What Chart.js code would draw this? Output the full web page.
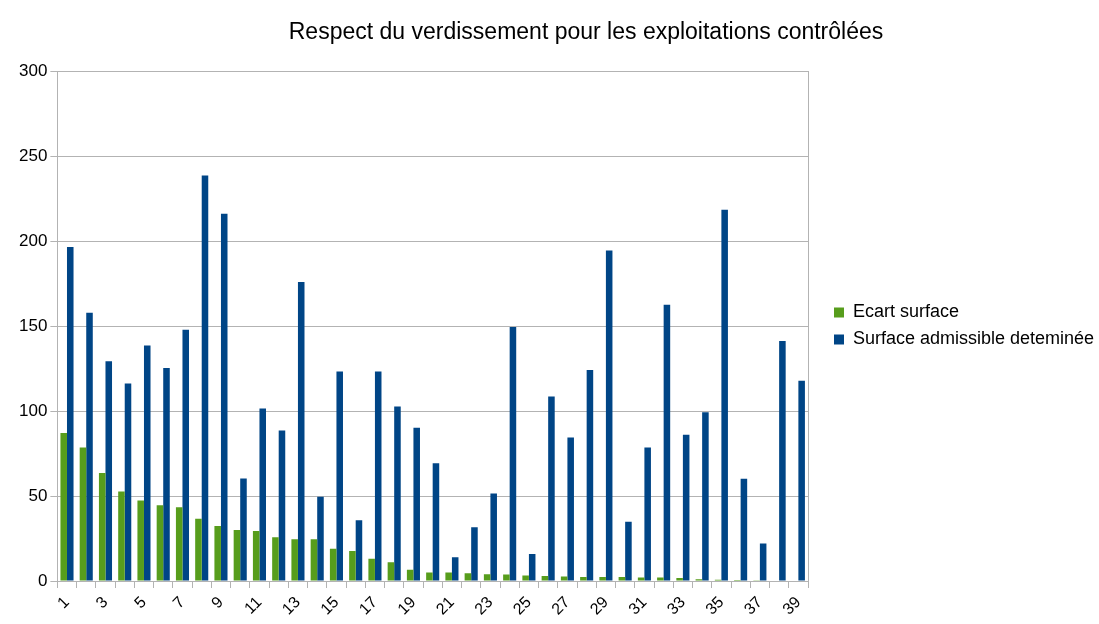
<!DOCTYPE html>
<html>
<head>
<meta charset="utf-8">
<script src="https://cdn.jsdelivr.net/npm/chart.js@4/dist/chart.umd.min.js"></script>
<style>
    body { margin: 0; background: #fff; }
    #wrap { width: 1099px; height: 624px; position: relative; }
</style>
</head>
<body>
<div id="wrap"><canvas id="verdChart"></canvas></div>
<script>
// Chart data
const titleText = 'Respect du verdissement pour les exploitations contrôlées';
const categories = ['1', '2', '3', '4', '5', '6', '7', '8', '9', '10',
    '11', '12', '13', '14', '15', '16', '17', '18', '19', '20',
    '21', '22', '23', '24', '25', '26', '27', '28', '29', '30',
    '31', '32', '33', '34', '35', '36', '37', '38', '39'];
const ecartSurface = [87, 78.5, 63.5, 52.7, 47.3, 44.6, 43.4, 36.6, 32.4, 30,
    29.4, 25.7, 24.5, 24.5, 18.9, 17.7, 13.1, 11.1, 6.6, 5,
    5, 4.6, 4, 3.8, 3.2, 3, 2.6, 2.4, 2.4, 2.4,
    2, 2, 1.8, 1, 0.8, 0.6, 0.5, 0.3, 0.3];
const surfaceAdmissible = [196.4, 157.8, 129.3, 116.2, 138.5, 125.3, 147.8, 238.5, 216, 60.3,
    101.5, 88.5, 175.9, 49.5, 123.3, 35.8, 123.3, 102.7, 90.1, 69.2,
    13.9, 31.6, 51.5, 149.4, 15.9, 108.6, 84.4, 124.1, 194.4, 34.8,
    78.6, 162.5, 86.1, 99.3, 218.4, 60.1, 22.1, 141.2, 117.8];
const yTicks = [0, 50, 100, 150, 200, 250, 300];

const gridGray = '#b3b3b3';
const fontFamily = '"Liberation Sans", Arial, sans-serif';

// Title drawn over the whole chart object, like the original
const offsetTitle = {
    id: 'offsetTitle',
    afterDraw(chart) {
        const ctx = chart.ctx;
        ctx.save();
        ctx.font = '23px ' + fontFamily;
        ctx.fillStyle = '#000';
        ctx.textAlign = 'center';
        ctx.textBaseline = 'middle';
        ctx.fillText(titleText, 586, 33);
        ctx.restore();
    }
};

function createChart() {
    const ctx = document.getElementById('verdChart').getContext('2d');

    new Chart(ctx, {
        type: 'bar',
        data: {
            labels: categories,
            datasets: [
                {
                    label: 'Ecart surface',
                    data: ecartSurface,
                    backgroundColor: '#579d1c',
                    categoryPercentage: 0.68,
                    barPercentage: 1
                },
                {
                    label: 'Surface admissible deteminée',
                    data: surfaceAdmissible,
                    backgroundColor: '#004586',
                    categoryPercentage: 0.68,
                    barPercentage: 1
                }
            ]
        },
        options: {
            responsive: true,
            maintainAspectRatio: false,
            animation: false,
            layout: {
                padding: { top: 71, left: 16, right: 0, bottom: 1 }
            },
            plugins: {
                title: { display: false },
                tooltip: { enabled: false },
                legend: {
                    position: 'right',
                    fullSize: false,
                    maxWidth: 274,
                    labels: {
                        boxWidth: 10,
                        boxHeight: 10,
                        padding: 9,
                        color: '#000',
                        font: { family: fontFamily, size: 18 }
                    }
                }
            },
            scales: {
                x: {
                    offset: true,
                    afterFit: axis => { axis.height = 42; },
                    grid: {
                        offset: true,
                        drawOnChartArea: false,
                        tickLength: 7,
                        color: gridGray
                    },
                    border: { color: gridGray },
                    ticks: {
                        autoSkip: false,
                        minRotation: 45,
                        maxRotation: 45,
                        padding: 5,
                        color: '#000',
                        font: { family: fontFamily, size: 16 },
                        callback: (value, index) => index % 2 === 0 ? categories[index] : ''
                    }
                },
                y: {
                    min: 0,
                    max: 300,
                    afterBuildTicks: axis => { axis.ticks = yTicks.map(v => ({ value: v })); },
                    grid: {
                        color: gridGray,
                        tickLength: 7
                    },
                    border: { color: gridGray },
                    ticks: {
                        padding: 3,
                        color: '#000',
                        font: { family: fontFamily, size: 17 }
                    }
                },
                // right edge of the plot frame, also leaves the gap before the legend
                yRight: {
                    position: 'right',
                    min: 0,
                    max: 300,
                    grid: { drawOnChartArea: false, drawTicks: false },
                    border: { display: true, color: gridGray },
                    ticks: { display: false },
                    afterFit: axis => { axis.width = 17; }
                }
            }
        },
        plugins: [offsetTitle]
    });
}

document.addEventListener('DOMContentLoaded', createChart);
</script>
</body>
</html>
